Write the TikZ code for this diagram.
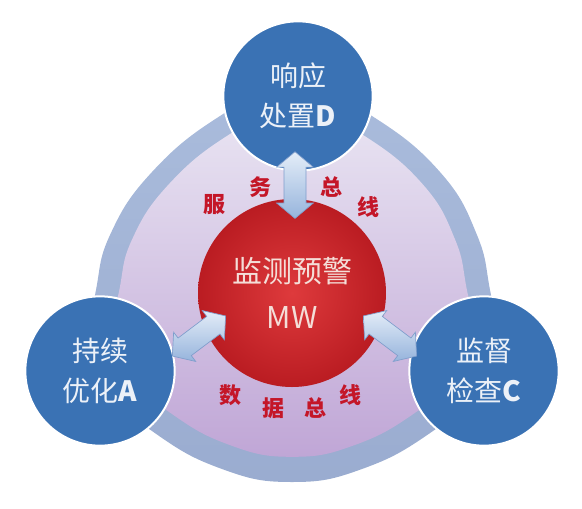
\documentclass[tikz,border=0pt]{standalone}
\usepackage{fontspec}
\usepackage{tikz}
\usetikzlibrary{shapes.arrows,calc}
\newfontfamily\cjk{Noto Sans CJK SC}
\tikzset{every picture/.style={line width=0.75pt}}

\definecolor{stageblue}{RGB}{58,114,180}
\definecolor{stagetext}{RGB}{236,241,248}
\definecolor{bandtop}{RGB}{170,188,220}
\definecolor{bandbottom}{RGB}{154,172,208}
\definecolor{fieldtop}{RGB}{234,230,243}
\definecolor{fieldbottom}{RGB}{192,166,214}
\definecolor{coreinner}{RGB}{222,58,60}
\definecolor{coreouter}{RGB}{186,28,34}
\definecolor{coretext}{RGB}{244,222,216}
\definecolor{arrowlight}{RGB}{228,237,248}
\definecolor{arrowdark}{RGB}{150,180,220}
\definecolor{arrowedge}{RGB}{128,158,204}
\definecolor{busred}{RGB}{196,22,40}

\tikzset{
  stage/.style={circle, draw=white, line width=1.5pt, fill=stageblue, minimum size=112pt, inner sep=0pt, align=center, text=stagetext, font=\cjk\fontsize{21}{30}\selectfont},
  core/.style={circle, inner color=coreinner, outer color=coreouter, minimum size=141pt, inner sep=0pt, align=center, text=coretext, font=\cjk\fontsize{22.5}{34}\selectfont},
  busarrow/.style={double arrow, draw=arrowedge, line width=0.5pt, top color=arrowlight, bottom color=arrowdark, minimum height=50pt, inner xsep=0pt, inner ysep=8pt, double arrow head extend=5.5pt, double arrow tip angle=100},
  buslabel/.style={text=busred, inner sep=0pt, font=\cjk\bfseries\fontsize{16.5}{16.5}\selectfont}
}

\begin{document}
\begin{tikzpicture}[x=0.75pt,y=0.75pt,yscale=-1,xscale=1]
\useasboundingbox (0,0) rectangle (582,508);

%Shape: Curved triangle, outer band
\path[top color=bandtop, bottom color=bandbottom] plot[smooth cycle, tension=0.75] coordinates {(296,80) (372,116) (440,172) (477,235) (491,295) (505,370) (433,431) (362,469) (292,482) (222,469) (152,431) (82,370) (95,295) (110,235) (152,172) (220,116)};
%Shape: Curved triangle, inner field
\begin{scope}[shift={(294,272)}, scale=0.88, shift={(-294,-272)}]
\path[top color=fieldtop, bottom color=fieldbottom] plot[smooth cycle, tension=0.75] coordinates {(296,80) (372,116) (440,172) (477,235) (491,295) (505,370) (433,431) (362,469) (292,482) (222,469) (152,431) (82,370) (95,295) (110,235) (152,172) (220,116)};
\end{scope}

%Shape: Circles
\node[stage] (resp) at (298,96) {响应\\处置\textbf{D}};
\node[stage] (opt) at (100,371) {持续\\优化\textbf{A}};
\node[stage] (insp) at (484,371) {监督\\检查\textbf{C}};
\node[core] (mw) at (292,293) {监测预警\\MW};

%Shape: Double arrows
\node[busarrow, rotate=90] (svcbus) at ($(resp.south)!0.5!(mw.north)$) {};
\node[busarrow, rotate=37] (databusA) at (199,336) {};
\node[busarrow, rotate=-37] (databusC) at (390,336) {};

% Text Node
\node[buslabel] (svc1) at (214,205) {服};
\node[buslabel] (svc2) at (260,187) {务};
\node[buslabel] (svc3) at (331,187) {总};
\node[buslabel] (svc4) at (368,207) {线};
% Text Node
\node[buslabel] (data1) at (230,395) {数};
\node[buslabel] (data2) at (273,408) {据};
\node[buslabel] (data3) at (315,408) {总};
\node[buslabel] (data4) at (350,395) {线};

\end{tikzpicture}
\end{document}
